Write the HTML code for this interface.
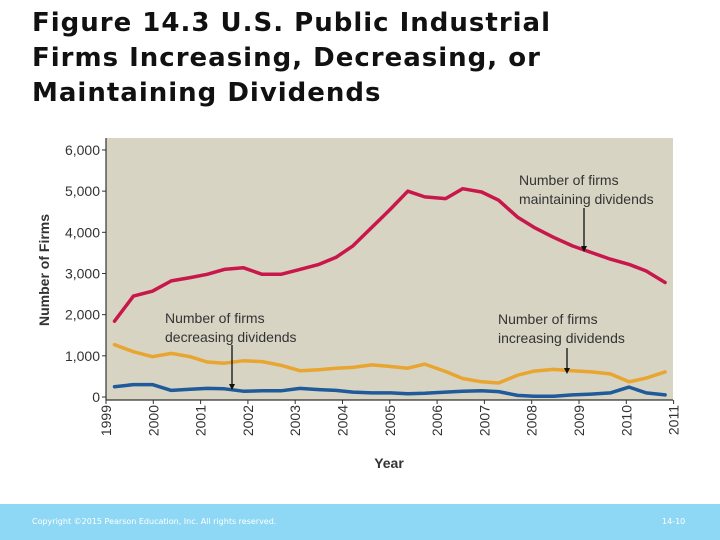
<!DOCTYPE html>
<html><head><meta charset="utf-8"><style>
body{margin:0;width:720px;height:540px;background:#fff;overflow:hidden;position:relative;font-family:"Liberation Sans",sans-serif}
#title{position:absolute;left:32px;top:6px;font-family:"DejaVu Sans",sans-serif;font-weight:bold;font-size:26px;letter-spacing:1px;line-height:35px;color:#111;margin:0}
#footer{position:absolute;left:0;top:504px;width:720px;height:36px;background:#8ed8f5;color:#fff;font-family:"DejaVu Sans",sans-serif;font-size:8px}
</style></head><body>
<h1 id="title">Figure 14.3 U.S. Public Industrial<br>Firms Increasing, Decreasing, or<br>Maintaining Dividends</h1>
<svg id="chart" width="720" height="500" style="position:absolute;left:0;top:0"></svg>
<div id="footer">
<span style="position:absolute;left:32px;top:13px">Copyright ©2015 Pearson Education, Inc. All rights reserved.</span>
<span style="position:absolute;left:662px;top:13px">14-10</span>
</div>
<script>
const years=[1999.18,1999.58,1999.98,2000.38,2000.78,2001.14,2001.5,2001.9,2002.3,2002.7,2003.1,2003.5,2003.86,2004.22,2004.62,2005.02,2005.38,2005.74,2006.18,2006.54,2006.94,2007.3,2007.7,2008.05,2008.46,2008.86,2009.26,2009.66,2010.06,2010.42,2010.82];
const maintaining=[1840,2450,2570,2820,2900,2980,3100,3140,2980,2980,3100,3220,3390,3670,4120,4570,5000,4860,4820,5060,4980,4780,4370,4120,3880,3670,3510,3350,3220,3060,2780];
const increasing=[1270,1100,980,1060,980,850,820,880,860,770,640,660,700,720,780,740,700,800,620,450,370,340,530,630,670,640,610,560,370,460,610];
const decreasing=[250,300,300,160,190,210,200,140,150,150,210,180,160,120,100,100,80,90,120,140,150,130,40,20,20,50,70,100,240,100,50];
const yTicks=[0,1000,2000,3000,4000,5000,6000];
const yTickLabels=["0","1,000","2,000","3,000","4,000","5,000","6,000"];
const xTicks=[1999,2000,2001,2002,2003,2004,2005,2006,2007,2008,2009,2010,2011];
const NS="http://www.w3.org/2000/svg";
const svg=document.getElementById('chart');
const X=y=>106+(y-1999)*47.3;
const Y=v=>397-v*0.04117;
function mk(t,a,p){const e=document.createElementNS(NS,t);for(const k in a)e.setAttribute(k,a[k]);(p||svg).appendChild(e);return e;}
const bg=mk('rect',{x:106,y:138,width:567,height:262,fill:'#d8d4c4'});


const ax=mk('path',{d:'M106,138 V400 H673',stroke:'#333',fill:'none','stroke-width':1.2});


yTicks.forEach((v,i)=>{
 const t=mk('line',{x1:102,x2:106,y1:Y(v),y2:Y(v),stroke:'#333'});
 
 
 const l=mk('text',{x:100,y:Y(v)+5,'text-anchor':'end','font-size':14,fill:'#333','font-family':'Liberation Sans Narrow, Liberation Sans, sans-serif'});
 l.textContent=yTickLabels[i];
 
 
});
xTicks.forEach(v=>{
 const t=mk('line',{x1:X(v),x2:X(v),y1:400,y2:404,stroke:'#333'});
 
 
 const l=mk('text',{x:0,y:0,transform:`translate(${X(v)+5},405) rotate(-90)`,'text-anchor':'end','font-size':14,fill:'#333','font-family':'Liberation Sans Narrow, Liberation Sans, sans-serif'});
 l.textContent=v;
 
 
});
const yt=mk('text',{x:0,y:0,transform:'translate(49,270) rotate(-90)','text-anchor':'middle','font-size':14,'font-weight':'bold',fill:'#333'});
yt.textContent='Number of Firms';


const xt=mk('text',{x:389,y:468,'text-anchor':'middle','font-size':14,'font-weight':'bold',fill:'#333'});
xt.textContent='Year';


function line(data,color,name){
 const d=data.map((v,i)=>(i?'L':'M')+X(years[i]).toFixed(1)+','+Y(v).toFixed(1)).join(' ');
 const p=mk('path',{d:d,stroke:color,fill:'none','stroke-width':3.5,'stroke-linejoin':'round','stroke-linecap':'round'});
 
 
}
line(maintaining,'#c8174a','line-maintaining');
line(increasing,'#e8a530','line-increasing');
line(decreasing,'#1f5b9a','line-decreasing');
function note(x,y,lines,name){
 lines.forEach((s,i)=>{const t=mk('text',{x:x,y:y+i*19,'font-size':14,fill:'#333','font-family':'Liberation Sans Narrow, Liberation Sans, sans-serif'});t.textContent=s;
 
 });
}
note(519,185,['Number of firms','maintaining dividends'],'annotation-maintaining');
note(165,323,['Number of firms','decreasing dividends'],'annotation-decreasing');
note(498,324,['Number of firms','increasing dividends'],'annotation-increasing');
function arrow(x,y1,y2,name){
 const g=mk('g',{});
 
 
 mk('line',{x1:x,x2:x,y1:y1,y2:y2-5,stroke:'#111','stroke-width':1.3},g);
 mk('path',{d:`M${x-3},${y2-6} L${x+3},${y2-6} L${x},${y2} Z`,fill:'#111'},g);
}
arrow(584,208,252,'arrow-maintaining');
arrow(232,345,390,'arrow-decreasing');
arrow(567,348,374,'arrow-increasing');
</script>
</body></html>
